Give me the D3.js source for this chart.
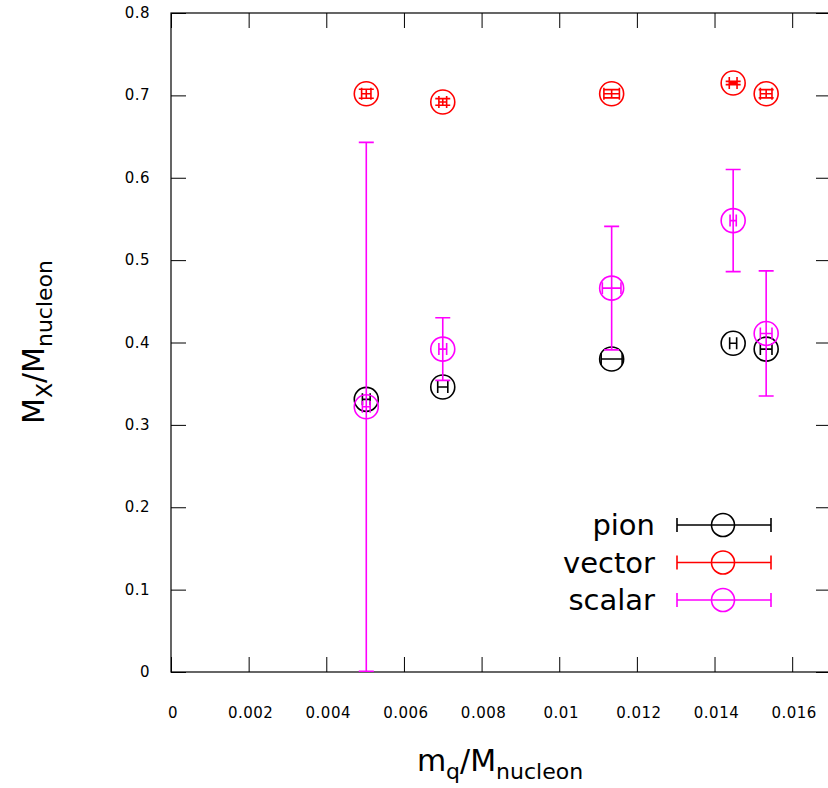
<!DOCTYPE html>
<html>
<head>
<meta charset="utf-8">
<script src="https://cdn.jsdelivr.net/npm/d3@7"></script>
<style>
  body { margin: 0; background: #fff; }
  text { font-family: 'DejaVu Sans', sans-serif; fill: #000; }
</style>
</head>
<body>
<script>
var mq = [0.00503, 0.0070, 0.01135, 0.01448, 0.01533];

var pion = [0.331, 0.346, 0.380, 0.399, 0.392];
var pionXErr = [0.0001, 0.00013, 0.00027, 0.00009, 0.00015];
var pionYErr = [0, 0, 0, 0, 0];

var vector = [0.702, 0.692, 0.702, 0.715, 0.702];
var vectorXErr = [0.00012, 0.0001, 0.0002, 0.0001, 0.00015];
var vectorYErr = [0.0055, 0.004, 0.005, 0.002, 0.005];

var scalar = [0.322, 0.392, 0.466, 0.548, 0.411];
var scalarXErr = [0.0001, 0.0001, 0.00024, 0.00008, 0.00015];
var scalarYErr = [0.321, 0.038, 0.075, 0.062, 0.076];

var xTicks = [0, 0.002, 0.004, 0.006, 0.008, 0.01, 0.012, 0.014, 0.016];
var yTicks = [0, 0.1, 0.2, 0.3, 0.4, 0.5, 0.6, 0.7, 0.8];

var seriesNames = ['pion', 'vector', 'scalar'];
var seriesColors = ['#000000', '#ff0000', '#ff00ff'];

var W = 828, H = 788;
var pL = 171, pT = 13, pR = 831, pB = 672;
var tickLen = 15, capX = 6, capY = 7.5, r = 12;

var x = d3.scaleLinear().domain([0, 0.017]).range([pL, pR]);
var y = d3.scaleLinear().domain([0, 0.8]).range([pB, pT]);

var svg = d3.select('body').append('svg')
  .attr('width', W)
  .attr('height', H);

svg.append('defs').append('clipPath').attr('id', 'plotclip')
  .append('rect')
    .attr('x', pL).attr('y', pT - 1)
    .attr('width', pR - pL).attr('height', pB - pT + 2);

function fmt(d) { return String(+d.toFixed(3)); }

function style(g) {
  g.select('.domain').remove();
  g.selectAll('.tick line').attr('stroke', '#000').attr('stroke-width', 1);
}

// axes, ticks drawn inward and mirrored
svg.append('g').attr('transform', 'translate(0,' + pB + ')')
  .call(d3.axisTop(x).tickValues(xTicks).tickSize(tickLen).tickFormat(''))
  .call(style);
svg.append('g').attr('transform', 'translate(0,' + pT + ')')
  .call(d3.axisBottom(x).tickValues(xTicks).tickSize(tickLen).tickFormat(''))
  .call(style);
svg.append('g').attr('transform', 'translate(' + pL + ',0)')
  .call(d3.axisRight(y).tickValues(yTicks).tickSize(tickLen).tickFormat(''))
  .call(style);
svg.append('g').attr('transform', 'translate(' + pR + ',0)')
  .call(d3.axisLeft(y).tickValues(yTicks).tickSize(tickLen).tickFormat(''))
  .call(style);

svg.append('rect')
  .attr('x', pL).attr('y', pT)
  .attr('width', pR - pL).attr('height', pB - pT)
  .attr('fill', 'none').attr('stroke', '#000').attr('stroke-width', 1.2);

// tick labels
svg.append('g').selectAll('text')
  .data(xTicks)
  .enter()
  .append('text')
    .attr('x', function(d) { return x(d) + 2; })
    .attr('y', 718)
    .attr('text-anchor', 'middle')
    .style('font-size', '15px')
    .style('letter-spacing', '0.5px')
    .text(fmt);

svg.append('g').selectAll('text')
  .data(yTicks)
  .enter()
  .append('text')
    .attr('x', 150)
    .attr('y', function(d) { return y(d) + 5; })
    .attr('text-anchor', 'end')
    .style('font-size', '15px')
    .style('letter-spacing', '0.5px')
    .text(fmt);

// axis titles
var xl = svg.append('text')
  .attr('x', 500).attr('y', 771)
  .attr('text-anchor', 'middle')
  .style('font-size', '30px');
xl.append('tspan').text('m');
xl.append('tspan').attr('dy', 8).style('font-size', '22px').text('q');
xl.append('tspan').attr('dy', -8).text('/M');
xl.append('tspan').attr('dy', 8).style('font-size', '22px').text('nucleon');

var yl = svg.append('text')
  .attr('transform', 'translate(44,342) rotate(-90)')
  .attr('text-anchor', 'middle')
  .style('font-size', '30px');
yl.append('tspan').text('M');
yl.append('tspan').attr('dy', 8).style('font-size', '22px').text('X');
yl.append('tspan').attr('dy', -8).text('/M');
yl.append('tspan').attr('dy', 8).style('font-size', '22px').text('nucleon');

// points with x and y error bars
var series = [
  { vals: pion, xe: pionXErr, ye: pionYErr },
  { vals: vector, xe: vectorXErr, ye: vectorYErr },
  { vals: scalar, xe: scalarXErr, ye: scalarYErr }
];

var plot = svg.append('g').attr('clip-path', 'url(#plotclip)');

series.forEach(function(s, k) {
  var col = seriesColors[k];
  var g = plot.append('g')
    .attr('stroke', col)
    .attr('stroke-width', 1.6)
    .attr('fill', 'none');
  var pts = g.selectAll('.pt')
    .data(mq.map(function(m, i) {
      return { x: m, y: s.vals[i], xe: s.xe[i], ye: s.ye[i] };
    }))
    .enter()
    .append('g');

  pts.append('path').attr('d', function(d) {
    var cx = x(d.x), cy = y(d.y);
    var x0 = x(d.x - d.xe), x1 = x(d.x + d.xe);
    var y0 = y(d.y - d.ye), y1 = y(d.y + d.ye);
    var p = 'M' + x0 + ',' + cy + 'H' + x1 +
      'M' + x0 + ',' + (cy - capX) + 'V' + (cy + capX) +
      'M' + x1 + ',' + (cy - capX) + 'V' + (cy + capX);
    if (d.ye > 0) {
      p += 'M' + cx + ',' + y0 + 'V' + y1 +
        'M' + (cx - capY) + ',' + y0 + 'H' + (cx + capY) +
        'M' + (cx - capY) + ',' + y1 + 'H' + (cx + capY);
    }
    return p;
  });
  pts.append('circle')
    .attr('cx', function(d) { return x(d.x); })
    .attr('cy', function(d) { return y(d.y); })
    .attr('r', r);
});

// legend
var legend = svg.append('g');
seriesNames.forEach(function(name, i) {
  var ly = 525 + i * 37.5;
  var col = seriesColors[i];
  legend.append('text')
    .attr('x', 655).attr('y', ly + 10)
    .attr('text-anchor', 'end')
    .style('font-size', '29px')
    .text(name);
  var g = legend.append('g')
    .attr('stroke', col).attr('stroke-width', 1.6).attr('fill', 'none');
  g.append('path')
    .attr('d', 'M677,' + ly + 'H771M677,' + (ly - 7) + 'V' + (ly + 7) +
      'M771,' + (ly - 7) + 'V' + (ly + 7));
  g.append('circle').attr('cx', 723).attr('cy', ly).attr('r', 11.5);
});
</script>
</body>
</html>
